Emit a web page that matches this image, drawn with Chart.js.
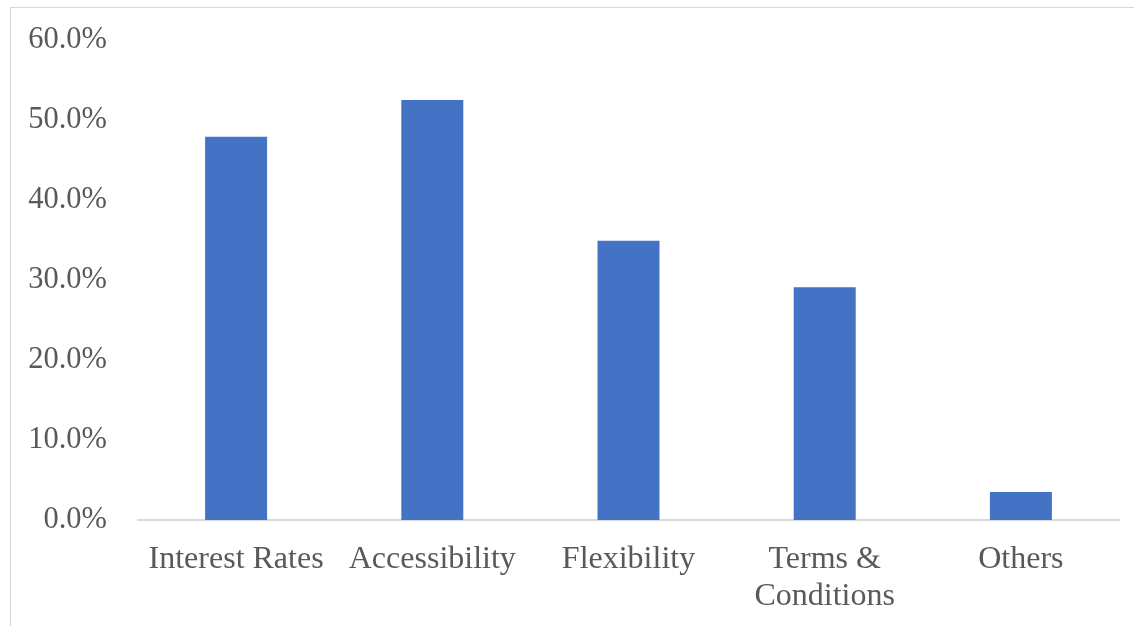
<!DOCTYPE html>
<html>
<head>
<meta charset="utf-8">
<script src="https://cdn.jsdelivr.net/npm/chart.js@4/dist/chart.umd.min.js"></script>
<style>
  html, body { margin: 0; padding: 0; background: #fff; overflow: hidden; }
  #wrap { position: relative; width: 1134px; height: 626px; }
  #frame { position: absolute; left: 10px; top: 7px; width: 1130px; height: 630px; border: 1px solid #d9d9d9; }
  #canvas { position: absolute; left: 0; top: 0; }
</style>
</head>
<body>
<div id="wrap">
  <div id="frame"></div>
  <canvas id="canvas" width="1134" height="626"></canvas>
</div>
<script>
// categories and values (percent)
var categories = ['Interest Rates', 'Accessibility', 'Flexibility', ['Terms &', 'Conditions'], 'Others'];
var shares = [47.9, 52.5, 34.9, 29.1, 3.5];
var yTicks = [0, 10, 20, 30, 40, 50, 60];

var textColor = '#595959';
var family = '"Liberation Serif", "Times New Roman", serif';

var ctx = document.getElementById('canvas').getContext('2d');
var chart = new Chart(ctx, {
  type: 'bar',
  data: {
    labels: categories,
    datasets: [{
      label: 'Share',
      backgroundColor: '#4472c4',
      data: shares,
      categoryPercentage: 1,
      barPercentage: 0.316
    }]
  },
  options: {
    responsive: false,
    animation: { duration: 0 },
    events: [],
    layout: { padding: { top: 40, right: 15, left: 0, bottom: 0 } },
    plugins: { legend: { display: false }, tooltip: { enabled: false } },
    scales: {
      x: {
        grid: { display: false, drawTicks: false },
        border: { display: true, color: '#d9d9d9', width: 2 },
        ticks: {
          color: textColor,
          font: { family: family, size: 32, lineHeight: 1.15 },
          padding: 21, maxRotation: 0, autoSkip: false
        },
        afterFit: function(scale) { scale.height = 106; }
      },
      y: {
        min: 0,
        max: 60,
        afterBuildTicks: function(scale) {
          scale.ticks = yTicks.map(function(v) { return { value: v }; });
        },
        grid: { display: false, drawTicks: false },
        border: { display: false },
        ticks: {
          color: textColor,
          font: { family: family, size: 30.5 },
          padding: 31,
          callback: function(v) { return v.toFixed(1) + '%'; }
        },
        afterFit: function(scale) {
          scale.width = 138;
          // tick padding would otherwise push the plot top down
          scale.paddingTop = 0;
          scale.paddingBottom = 0;
        }
      }
    }
  }
});
</script>
</body>
</html>
